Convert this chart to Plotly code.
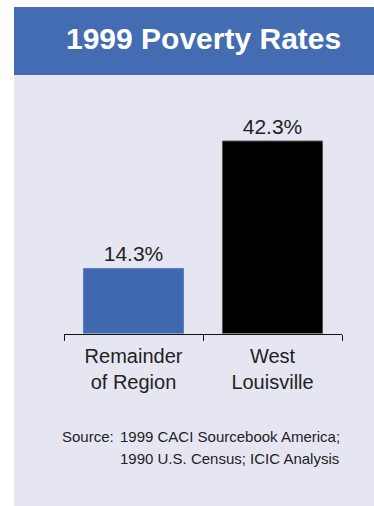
import plotly.graph_objects as go

categories = ["Remainder<br>of Region", "West<br>Louisville"]
values = [14.3, 42.3]
bar_colors = ["#4169B0", "#000000"]
title_text = "1999 Poverty Rates"
source_label = "Source:"
source_lines = ["1999 CACI Sourcebook America;", "1990 U.S. Census; ICIC Analysis"]

W, H = 374, 506
FONT = "Liberation Sans"

def px_x(p):
    return p / W

def px_y(p):
    return 1 - p / H

annotations = [
    dict(text=f"<b>{title_text}</b>", xref="paper", yref="paper", x=px_x(204), y=px_y(38),
         xanchor="center", yanchor="middle", showarrow=False,
         font=dict(family=FONT, size=30, color="white")),
    dict(text=source_label, xref="paper", yref="paper", x=px_x(60), y=px_y(436),
         xanchor="left", yanchor="middle", showarrow=False,
         font=dict(family=FONT, size=15, color="#222222")),
]
for i, line in enumerate(source_lines):
    annotations.append(
        dict(text=line, xref="paper", yref="paper", x=px_x(118), y=px_y(436 + 22 * i),
             xanchor="left", yanchor="middle", align="left", showarrow=False,
             font=dict(family=FONT, size=15, color="#222222"))
    )

fig = go.Figure(
    go.Bar(
        x=categories,
        y=values,
        marker=dict(color=bar_colors, line=dict(color=["#5A7FC0", "#555555"], width=1)),
        text=[f"{v}%" for v in values],
        textposition="outside",
        textfont=dict(family=FONT, size=21, color="#222222"),
        cliponaxis=False,
        hoverinfo="skip",
    )
)

fig.update_layout(
    width=W,
    height=H,
    margin=dict(l=0, r=0, t=0, b=0),
    paper_bgcolor="white",
    plot_bgcolor="rgba(0,0,0,0)",
    showlegend=False,
    bargap=0.28,
    xaxis=dict(
        domain=[px_x(64), px_x(342)],
        showline=True,
        linecolor="#111111",
        linewidth=1,
        ticks="outside",
        tickson="boundaries",
        ticklen=6,
        tickcolor="#111111",
        ticklabelstandoff=4,
        tickfont=dict(family=FONT, size=20, color="#222222"),
        showgrid=False,
        fixedrange=True,
    ),
    yaxis=dict(
        domain=[px_y(333.5), px_y(106)],
        range=[0, 50],
        visible=False,
        fixedrange=True,
    ),
    shapes=[
        dict(type="rect", xref="paper", yref="paper", x0=px_x(14), x1=1, y0=0, y1=px_y(7),
             fillcolor="#E6E6F2", line=dict(width=0), layer="below"),
        dict(type="rect", xref="paper", yref="paper", x0=px_x(14), x1=1, y0=px_y(75), y1=px_y(7),
             fillcolor="#436CB2", line=dict(width=0), layer="below"),
    ],
    annotations=annotations,
)

fig.write_html("out.html")
